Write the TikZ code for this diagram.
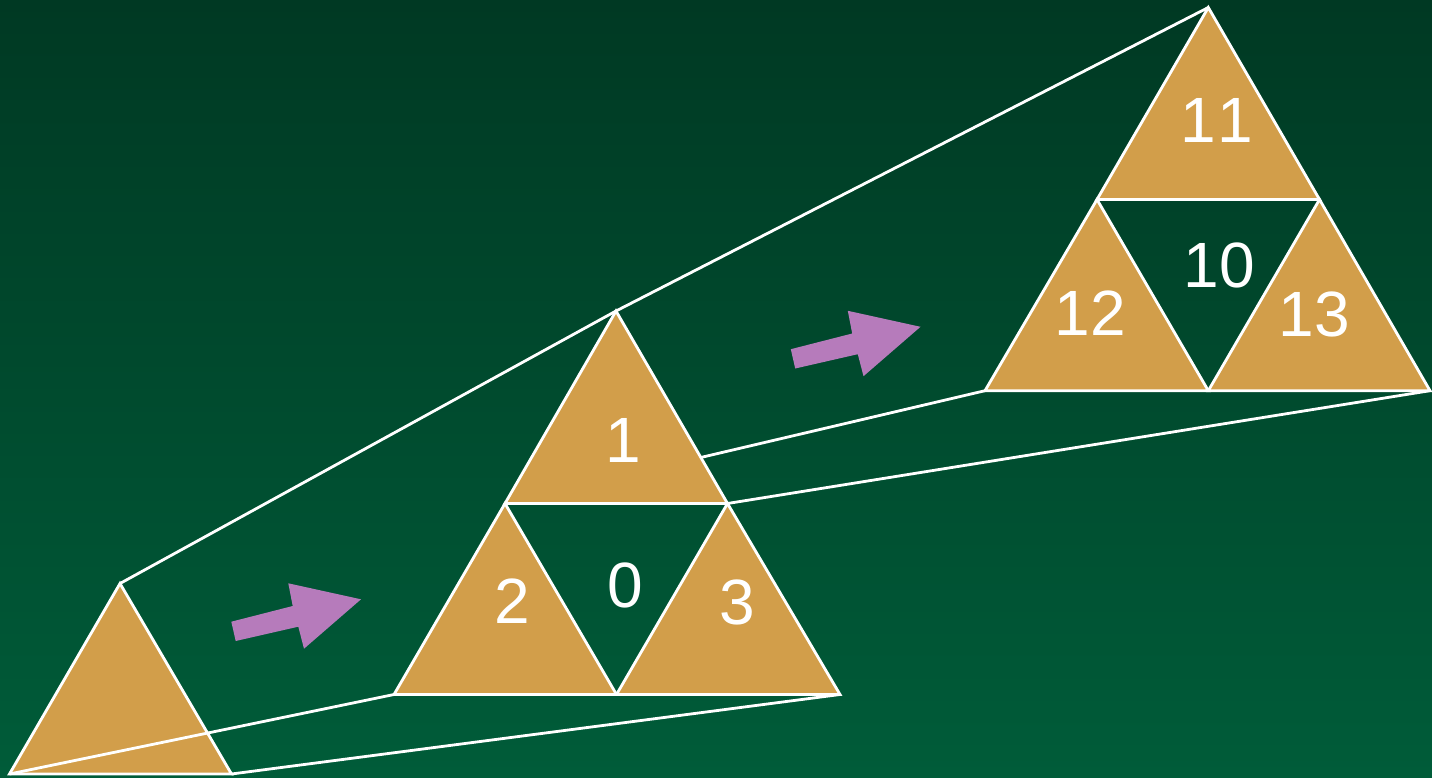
\documentclass[tikz,border=0pt]{standalone}
\usepackage{fontspec}
\setmainfont{Liberation Sans}
\begin{document}
\begin{tikzpicture}[x=1pt,y=-1pt,
  tri/.style={fill=triorange,draw=white,line width=2.8pt,line join=miter},
  zoomline/.style={draw=white,line width=2.8pt},
  blockarrow/.style={fill=arrowpurple,draw=none},
  num/.style={text=white,inner sep=0pt,font=\fontsize{64}{64}\selectfont}]
\definecolor{triorange}{HTML}{D29E4A}
\definecolor{arrowpurple}{HTML}{B67BBB}
\definecolor{bgtop}{HTML}{003923}
\definecolor{bgbot}{HTML}{005C39}
\useasboundingbox (0,0) rectangle (1432,778);
\shade[top color=bgtop,bottom color=bgbot] (0,0) rectangle (1432,778);
% small triangle
\coordinate (sA) at (120,583.5);
\coordinate (sL) at (9.5,774);
\coordinate (sR) at (231.5,774);
% medium triangle
\coordinate (mA) at (616,311);
\coordinate (mL) at (394,694.5);
\coordinate (mR) at (840,694.5);
\coordinate (mML) at (505,503.5);
\coordinate (mMR) at (727.5,503.5);
\coordinate (mMB) at (616.5,694.5);
% large triangle
\coordinate (lA) at (1208.3,7.5);
\coordinate (lL) at (985,390.7);
\coordinate (lR) at (1430,390.7);
\coordinate (lML) at (1097,199.5);
\coordinate (lMR) at (1319.5,199.5);
\coordinate (lMB) at (1208.3,390.7);
% connectors medium -> large (behind medium triangle)
\draw[zoomline] (mA) -- (lA);
\draw[zoomline] (mML) -- (lL);
\draw[zoomline] (mMR) -- (lR);
% medium triangle
\draw[tri] (mA) -- (mMR) -- (mML) -- cycle;
\draw[tri] (mML) -- (mMB) -- (mL) -- cycle;
\draw[tri] (mMR) -- (mR) -- (mMB) -- cycle;
% small triangle
\draw[tri] (sA) -- (sR) -- (sL) -- cycle;
% connectors small -> medium
\draw[zoomline] (sA) -- (mA);
\draw[zoomline] (sL) -- (mL);
\draw[zoomline] (sR) -- (mR);
% large triangle
\draw[tri] (lA) -- (lMR) -- (lML) -- cycle;
\draw[tri] (lML) -- (lMB) -- (lL) -- cycle;
\draw[tri] (lMR) -- (lR) -- (lMB) -- cycle;
% arrows
\fill[blockarrow] (231.3,621.7) -- (292.7,606) -- (288.3,583.3) -- (361,599.3)
  -- (304,648.7) -- (298.3,626.7) -- (235.7,641) -- cycle;
\begin{scope}[shift={(559.5,-272.5)}]
\fill[blockarrow] (231.3,621.7) -- (292.7,606) -- (288.3,583.3) -- (361,599.3)
  -- (304,648.7) -- (298.3,626.7) -- (235.7,641) -- cycle;
\end{scope}
% labels
\node[num] (n1) at (623.5,440.5) {1};
\node[num] (n2) at (512.5,601) {2};
\node[num] (n0) at (625,585) {0};
\node[num] (n3) at (737,602) {3};
\node[num] (n11) at (1217,120) {1\kern2pt 1};
\node[num] (n12) at (1090.5,313) {12};
\node[num] (n10) at (1219,265.5) {10};
\node[num] (n13) at (1314,314) {13};
\end{tikzpicture}
\end{document}
